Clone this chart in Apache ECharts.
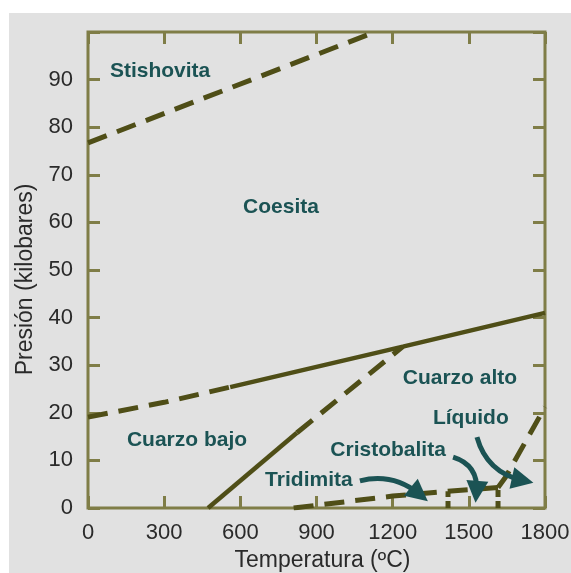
<!DOCTYPE html>
<html>
<head>
<meta charset="utf-8">
<script src="https://cdn.jsdelivr.net/npm/echarts@6/dist/echarts.min.js"></script>
<style>
  html, body { margin: 0; padding: 0; background: #ffffff; }
  #chart { position: absolute; left: 9px; top: 13px; width: 562px; height: 560px; background: #e1e1e1; }
</style>
</head>
<body>
<div id="chart"></div>
<script>
// ticks
const xTicks = [0, 300, 600, 900, 1200, 1500, 1800]
const yTicks = [0, 10, 20, 30, 40, 50, 60, 70, 80, 90]

// boundaries [temperatura, presión]
const stishovitaLine = [[0, 76.7], [1130, 100]]
const coesitaDashed = [[0, 19.1], [300, 22.2], [560, 25.4]]
const coesitaSolid = [[560, 25.4], [1240, 33.9], [1800, 41]]
const cuarzoSolid = [[473, 0], [823, 15.8]]
const cuarzoDashed = [[823, 15.8], [1240, 33.9]]
const tridimitaLine = [[810, 0], [1200, 2.5], [1418, 3.5], [1615, 4.3]]
const vertical1 = [[1418, 0], [1418, 3.5]]
const vertical2 = [[1615, 0], [1615, 4.3]]
const liquidoLine = [[1615, 4.3], [1645, 6.5], [1800, 21.2]]

// labels [temperatura, presión, texto]
const fases = [
  [284, 91.7, 'Stishovita'],
  [760, 63.1, 'Coesita'],
  [390, 14.3, 'Cuarzo bajo'],
  [1465, 27.3, 'Cuarzo alto'],
  [1508, 18.9, 'Líquido'],
  [1182, 12.2, 'Cristobalita'],
  [870, 5.9, 'Tridimita']
]

// arrows: from, to (arrowhead centre), curveness
const flechas = [
  { coords: [[1071, 5.7], [1305, 2.9]], curve: 0.25 },
  { coords: [[1438, 10.7], [1530, 3.4]], curve: 0.4 },
  { coords: [[1532, 14.9], [1712, 5.8]], curve: -0.3 }
]

const olive = '#7f7d47'
const dark = '#4f4e17'
const teal = '#1b5354'
const dash = [20, 11]

function boundary(data, dashType, w) {
  return {
    type: 'line',
    data: data,
    symbol: 'none',
    silent: true,
    lineStyle: { color: dark, width: w || 5, type: dashType, cap: 'butt' },
    z: 3
  }
}

function frameAxis(pos, max, interval) {
  return {
    type: 'value', min: 0, max: max, interval: interval, position: pos,
    axisLine: { show: false, onZero: false },
    axisTick: { inside: true, length: 12, lineStyle: { color: olive, width: 3 } },
    axisLabel: { show: false },
    splitLine: { show: false }
  }
}

const chart = echarts.init(document.getElementById('chart'))

const xMain = frameAxis('bottom', 1800, 300)
xMain.name = 'Temperatura (ºC)'
xMain.nameLocation = 'middle'
xMain.nameGap = 40
xMain.nameTextStyle = { fontSize: 23, color: '#2a2a2a', padding: [0, 0, 0, 12] }
xMain.axisLabel = { show: true, fontSize: 22, color: '#2a2a2a', margin: 14, formatter: v => xTicks.includes(v) ? String(v) : '' }

const yMain = frameAxis('left', 100, 10)
yMain.name = 'Presión (kilobares)'
yMain.nameLocation = 'middle'
yMain.nameGap = 49
yMain.nameTextStyle = { fontSize: 23, color: '#2a2a2a', padding: [0, 19, 0, 0] }
yMain.axisLabel = { show: true, fontSize: 22, color: '#2a2a2a', margin: 15, formatter: v => yTicks.includes(v) ? String(v) : '' }

chart.setOption({
  animation: false,
  textStyle: { fontFamily: 'Liberation Sans, Arial, sans-serif' },
  grid: {
    left: 79, top: 19, right: 26, bottom: 65,
    containLabel: false, outerBoundsMode: 'none',
    show: true, borderColor: olive, borderWidth: 3, backgroundColor: 'transparent'
  },
  xAxis: [xMain, frameAxis('top', 1800, 300)],
  yAxis: [yMain, frameAxis('right', 100, 10)],
  series: [
    boundary(stishovitaLine, dash),
    boundary(coesitaDashed, dash),
    boundary(coesitaSolid, 'solid', 4.5),
    boundary(cuarzoSolid, 'solid', 4.5),
    boundary(cuarzoDashed, dash),
    boundary(tridimitaLine, dash),
    boundary(vertical1, [7, 4]),
    boundary(vertical2, [7, 4]),
    boundary(liquidoLine, dash),
    {
      type: 'lines',
      coordinateSystem: 'cartesian2d',
      silent: true,
      symbol: ['none', 'triangle'],
      symbolSize: [22, 22],
      lineStyle: { color: teal, width: 5, opacity: 1 },
      itemStyle: { color: teal, opacity: 1 },
      data: flechas.map(f => ({ coords: f.coords, lineStyle: { curveness: f.curve } })),
      z: 5
    },
    {
      type: 'scatter',
      symbolSize: 0,
      silent: true,
      itemStyle: { opacity: 1 },
      data: fases,
      label: {
        show: true, position: 'inside', color: teal, opacity: 1, fontSize: 21, fontWeight: 'bold',
        formatter: p => p.data[2]
      },
      z: 6
    }
  ]
})
</script>
</body>
</html>
